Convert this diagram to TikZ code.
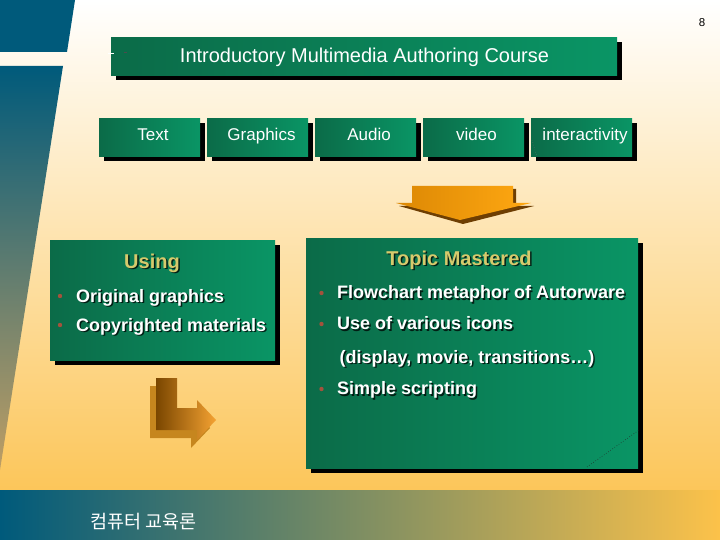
\documentclass[tikz,border=0pt]{standalone}
\usepackage{fontspec}
\setmainfont{Liberation Sans}
\newfontfamily\kofont{Noto Sans CJK KR}
\usetikzlibrary{calc,shadows}
\definecolor{gL}{HTML}{0B6B48}
\definecolor{gR}{HTML}{0A9565}
\definecolor{blueband}{HTML}{005A7B}
\definecolor{khaki}{HTML}{D6CA6C}
\definecolor{bulletc}{HTML}{A4523C}
\definecolor{orL}{HTML}{DC8804}
\definecolor{orR}{HTML}{FFA812}
\definecolor{orShadow}{HTML}{6E3E02}
\definecolor{lL}{HTML}{7A4600}
\definecolor{lR}{HTML}{F4A232}
\definecolor{lShadow}{HTML}{C6861E}
\newcommand\sdtext[4]{%
  \node[#1, text=black, opacity=0.75] at ($#3+(1.5,1.5)$) {#4};
  \node[#1] (#2) at #3 {#4};
}
\begin{document}
\begin{tikzpicture}[x=1pt,y=-1pt,
  gbox/.style={draw=none, left color=gL, right color=gR, inner sep=0, anchor=north west,
    drop shadow={shadow xshift=5pt, shadow yshift=-5pt, opacity=1, fill=black}},
  rowlabel/.style={text=white, inner sep=0, anchor=base, font=\fontsize{17}{19}\selectfont},
  headtxt/.style={text=khaki, inner sep=0, anchor=base, font=\bfseries\fontsize{20}{22}\selectfont},
  itemtxt/.style={text=white, inner sep=0, anchor=base west, font=\bfseries\fontsize{18}{20}\selectfont},
  bullet/.style={fill=bulletc}]
\useasboundingbox (0,0) rectangle (720,540);
% background
\shade[top color=white, middle color=white!55!orange!18, bottom color={rgb,255:red,252;green,198;blue,90}] (0,0) rectangle (720,490);
% left band
\fill[blueband] (0,0) -- (75,0) -- (67,52) -- (0,52) -- cycle;
\shade[top color=blueband, middle color={rgb,255:red,90;green,108;blue,116}, bottom color={rgb,255:red,190;green,158;blue,100}] (0,66) -- (63,66) -- (0,470) -- cycle;
% bottom bar
\shade[left color=blueband, middle color={rgb,255:red,176;green,150;blue,104}, right color={rgb,255:red,252;green,194;blue,74}] (0,490) rectangle (720,540);
\node[text=white, inner sep=0, anchor=base west, font=\kofont\fontsize{18.5}{20}\selectfont] (footer) at (90,528) {컴퓨터 교육론};
\node[inner sep=0, font=\fontsize{11.5}{13}\selectfont] (pagenum) at (702,23) {8};
% title box
\node[gbox, minimum width=506pt, minimum height=38pt] (title) at (111,37) {};
\node[text=white, inner sep=0, anchor=base, font=\fontsize{20}{22}\selectfont] (titletxt) at (364.5,63) {Introductory Multimedia Authoring Course};
\draw[white, line width=0.8pt] (108,53) -- (114,53);
\draw[black!70, line width=0.8pt] (124,52) -- (127,52);
% row boxes
\node[gbox, minimum width=101pt, minimum height=38pt] (btext) at (99,118) {};
\node[gbox, minimum width=101pt, minimum height=38pt] (bgraph) at (207,118) {};
\node[gbox, minimum width=101pt, minimum height=38pt] (baudio) at (315,118) {};
\node[gbox, minimum width=101pt, minimum height=38pt] (bvideo) at (423,118) {};
\node[gbox, minimum width=101pt, minimum height=38pt] (binter) at (531,118) {};
\node[rowlabel] (ltext) at (153,141) {Text};
\node[rowlabel] (lgraph) at (261.5,141) {Graphics};
\node[rowlabel] (laudio) at (369,141) {Audio};
\node[rowlabel] (lvideo) at (476.5,141) {video};
\node[rowlabel] (linter) at (585,141) {interactivity};
\draw[black!60, dotted, line width=0.5pt] (532,140) -- (537,157);
% orange down arrow
\fill[orShadow] (415,189) -- (516,189) -- (516,206) -- (534,206) -- (463,224) -- (399,206) -- (415,206) -- cycle;
\shade[left color=orL, right color=orR] (412,186) -- (513,186) -- (513,203) -- (531,203) -- (460,220) -- (396,203) -- (412,203) -- cycle;
% Using box
\node[gbox, minimum width=225pt, minimum height=120pt] (using) at (50,240) {};
\sdtext{headtxt}{usinghd}{(152,268)}{Using}
\fill[bullet] (60,296) circle (2.2pt);
\fill[bullet] (60,325) circle (2.2pt);
\sdtext{itemtxt}{u1}{(76,302)}{Original graphics}
\sdtext{itemtxt}{u2}{(76,331)}{Copyrighted materials}
% Topic box
\node[gbox, minimum width=332pt, minimum height=230pt] (topic) at (306,238) {};
\sdtext{headtxt}{topichd}{(459,265)}{Topic Mastered}
\fill[bullet] (321.5,293) circle (2.2pt);
\fill[bullet] (321.5,324) circle (2.2pt);
\fill[bullet] (321.5,389) circle (2.2pt);
\sdtext{itemtxt}{t1}{(337,298.5)}{Flowchart metaphor of Autorware}
\sdtext{itemtxt}{t2}{(337,329.5)}{Use of various icons}
\sdtext{itemtxt}{t3}{(339.5,363)}{(display, movie, transitions\dots)}
\sdtext{itemtxt}{t4}{(337,394.5)}{Simple scripting}
\draw[black!85, dotted, line width=0.6pt] (587,467) -- (639,430);
% L arrow
\fill[lShadow] (150,386) -- (171,386) -- (171,416) -- (191,416) -- (191,408) -- (210,428) -- (191,448) -- (191,438) -- (150,438) -- cycle;
\shade[left color=lL, right color=lR] (156,378) -- (177,378) -- (177,408) -- (197,408) -- (197,400) -- (216,420) -- (197,440) -- (197,430) -- (156,430) -- cycle;
\end{tikzpicture}
\end{document}
